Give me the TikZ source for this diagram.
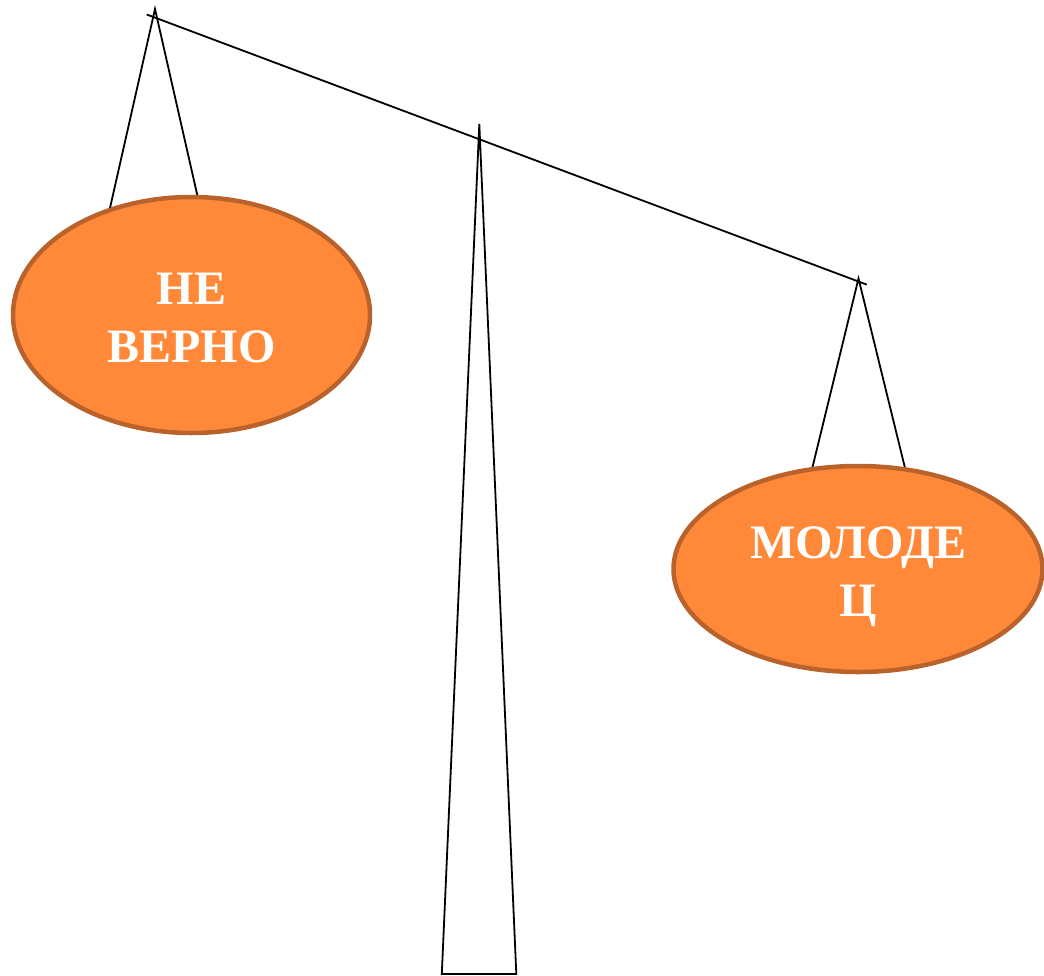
\documentclass[tikz,border=0pt]{standalone}
\usepackage{fontspec}
\setmainfont{Liberation Serif}
\usetikzlibrary{shapes.geometric}
\definecolor{panfill}{HTML}{FF8939}
\definecolor{panedge}{HTML}{B9622B}
\tikzset{
  wire/.style={draw=black, line width=1.8pt, line join=miter},
  pan/.style={ellipse, draw=panedge, fill=panfill, line width=4.5pt, inner sep=0pt},
  pantext/.style={text=white, align=center, inner sep=0pt, anchor=base,
    font=\bfseries\fontsize{48}{58}\selectfont},
}
\begin{document}
\begin{tikzpicture}[x=1pt,y=-1pt]
\useasboundingbox (0,0) rectangle (1044,975);
% stand
\coordinate (standtop) at (479.3,124);
\coordinate (standbl) at (441.8,974);
\coordinate (standbr) at (516.3,974);
\draw[wire] (standtop) -- (standbl) -- (standbr) -- cycle;
% beam
\coordinate (beamL) at (146.7,14.5);
\coordinate (beamR) at (866.7,284.6);
\draw[wire] (beamL) -- (beamR);
% left hanger
\coordinate (lapex) at (155,9);
\coordinate (ls1) at (110,208);
\coordinate (ls2) at (197.5,196);
\draw[wire] (ls1) -- (lapex) -- (ls2);
% right hanger
\coordinate (rapex) at (858.5,278.5);
\coordinate (rs1) at (812.3,468);
\coordinate (rs2) at (905,468);
\draw[wire] (rs1) -- (rapex) -- (rs2);
% pans
\node[pan, minimum width=357pt, minimum height=236pt] (left) at (191.5,315) {};
\node[pantext] (lefttext) at (191.5,362) {НЕ\\ВЕРНО};
\node[pan, minimum width=369pt, minimum height=206pt] (right) at (858,569) {};
\node[pantext] (righttext) at (858,616) {МОЛОДЕ\\Ц};
\end{tikzpicture}
\end{document}
